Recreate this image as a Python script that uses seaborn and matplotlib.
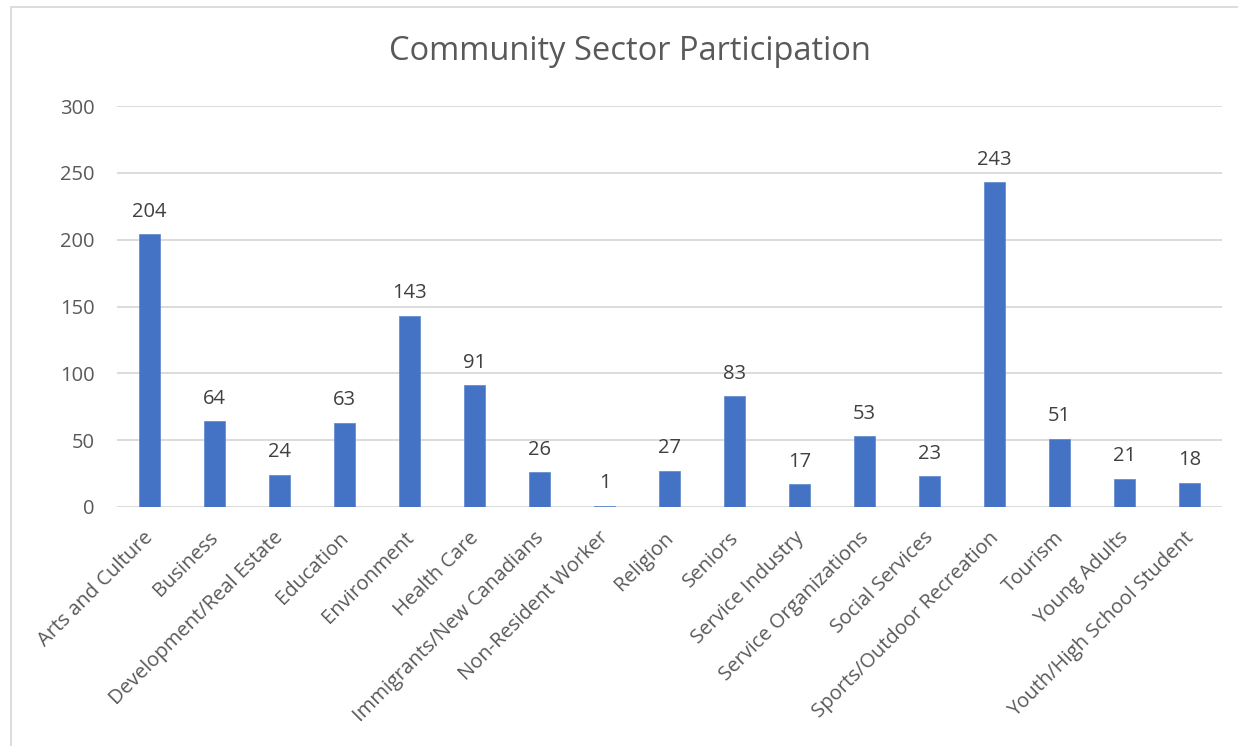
import matplotlib
matplotlib.use("Agg")
import matplotlib.pyplot as plt
import matplotlib.transforms as mtransforms
import seaborn as sns
import pandas as pd
from matplotlib.patches import Rectangle

categories = [
    "Arts and Culture", "Business", "Development/Real Estate", "Education",
    "Environment", "Health Care", "Immigrants/New Canadians",
    "Non-Resident Worker", "Religion", "Seniors", "Service Industry",
    "Service Organizations", "Social Services", "Sports/Outdoor Recreation",
    "Tourism", "Young Adults", "Youth/High School Student",
]
participants = [204, 64, 24, 63, 143, 91, 26, 1, 27, 83, 17, 53, 23, 243, 51, 21, 18]
y_ticks = [0, 50, 100, 150, 200, 250, 300]

sns.set_theme(style="white")
plt.rcParams["font.family"] = ["Open Sans", "DejaVu Sans"]

TEXT = "#595959"
GRID = "#D9D9D9"
BAR = "#4472C4"

W, H = 1238, 746
fig = plt.figure(figsize=(W / 100, H / 100), dpi=100)
ax = fig.add_axes([117 / W, 1 - 507 / H, (1222 - 117) / W, (507 - 106) / H])

df = pd.DataFrame({"sector": categories, "count": participants})
sns.barplot(data=df, x="sector", y="count", color=BAR, width=0.31,
            saturation=1, ax=ax, edgecolor="#5B86D0", linewidth=0.5)

ax.set_ylim(0, 300)
ax.set_xlim(-0.5, len(categories) - 0.5)
ax.set_yticks(y_ticks)
ax.set_yticklabels([str(t) for t in y_ticks], fontsize=14.5, color=TEXT)
ax.yaxis.grid(True, color=GRID, linewidth=1.3)
ax.set_axisbelow(True)
for s in ax.spines.values():
    s.set_visible(False)
ax.tick_params(axis="both", length=0)
ax.tick_params(axis="y", pad=16)
ax.tick_params(axis="x", pad=15)
ax.set_xlabel("")
ax.set_ylabel("")

ax.set_xticks(range(len(categories)))
ax.set_xticklabels(categories, rotation=45, ha="right", rotation_mode="anchor",
                   fontsize=14.5, color=TEXT)
# nudge the slanted category labels slightly left so they end at the bar
shift = mtransforms.ScaledTranslation(-6 / 100, 0, fig.dpi_scale_trans)
for lbl in ax.get_xticklabels():
    lbl.set_transform(lbl.get_transform() + shift)

for container in ax.containers:
    ax.bar_label(container, labels=[str(v) for v in participants],
                 padding=9, fontsize=14.5, color="#404040")

fig.text(630 / W, 1 - 51 / H, "Community Sector Participation",
         ha="center", va="center", fontsize=23.5, color=TEXT)

fig.patches.append(Rectangle((11 / W, -0.1), 1.2, 1.1 - 7 / H,
                             transform=fig.transFigure, fill=False,
                             edgecolor=GRID, linewidth=1.3))

fig.savefig("out.png", dpi=100, facecolor="white")
